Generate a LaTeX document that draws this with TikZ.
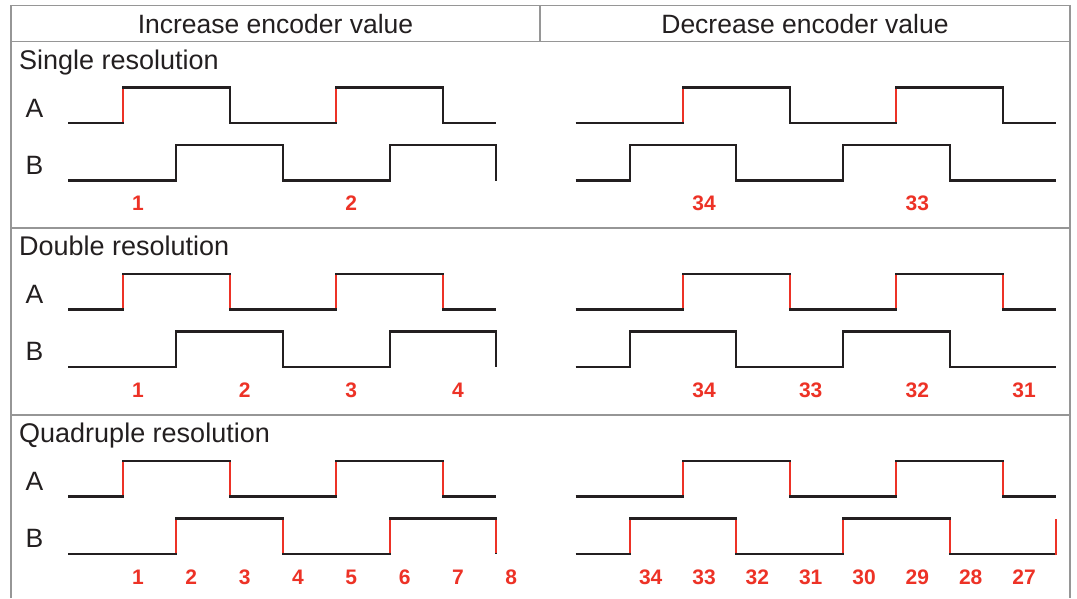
\documentclass[tikz,border=0pt]{standalone}
\usepackage{fontspec}
\setmainfont{Liberation Sans}
\definecolor{framegray}{RGB}{150,150,150}
\definecolor{sigred}{RGB}{237,50,38}
\definecolor{ink}{RGB}{35,31,32}
\begin{document}
\begin{tikzpicture}[x=1pt,y=-1pt,
  frame/.style={draw=framegray,line width=1.4pt},
  wave/.style={draw=ink,line width=2.1pt,line join=miter},
  redge/.style={draw=sigred,line width=2.1pt},
  head/.style={font=\fontsize{26.5}{30}\selectfont,text=ink,inner sep=0pt,anchor=base},
  title/.style={font=\fontsize{27}{30}\selectfont,text=ink,inner sep=0pt,anchor=base west},
  sig/.style={font=\fontsize{26.5}{30}\selectfont,text=ink,inner sep=0pt,anchor=base},
  num/.style={font=\bfseries\fontsize{21}{24}\selectfont,text=sigred,inner sep=0pt,anchor=base}]
\useasboundingbox (0,0) rectangle (1077,598);
\fill[white] (0,0) rectangle (1077,598);
% frame
\draw[frame] (11,598) -- (11,5.7) -- (1070,5.7) -- (1070,598);
\draw[frame] (11,41.5) -- (1070,41.5);
\draw[frame] (540,5.7) -- (540,41.5);
\draw[frame] (11,228) -- (1070,228);
\draw[frame] (11,415) -- (1070,415);
\node[head] (hinc) at (275.5,33.3) {Increase encoder value};
\node[head] (hdec) at (805,33.3) {Decrease encoder value};
% ---------- sections ----------
\foreach \s/\nm/\mode in {41.5/Single/1, 228/Double/2, 415/Quadruple/4}{
\begin{scope}[shift={(0,\s)}]
  \node[title] (t\mode) at (19,27.5) {\nm\ resolution};
  \node[sig] (a\mode) at (34.5,75.8) {A};
  \node[sig] (b\mode) at (34.5,132.5) {B};
  % left A and B
  \draw[wave] (68,81.5) -| (123,46) -| (229.7,81.5) -| (336.3,46) -| (443,81.5) -- (496.3,81.5);
  \draw[wave] (68,139) -| (176.3,103.5) -| (283,139) -| (389.7,103.5) -| (496.3,139);
  % right A and B
  \draw[wave] (575.5,81.5) -| (683,46) -| (789.7,81.5) -| (896.3,46) -| (1003,81.5) -- (1056.3,81.5);
  \draw[wave] (575.5,139) -| (629.7,103.5) -| (736.3,139) -| (843,103.5) -| (949.7,139) -- (1056.3,139);
  % red rising edges of A (all modes)
  \foreach \x in {123,336.3,683,896.3}{\draw[redge] (\x,80.4) -- (\x,47.1);}
  \ifnum\mode>1
    \foreach \x in {229.7,443,789.7,1003}{\draw[redge] (\x,80.4) -- (\x,47.1);}
  \fi
  \ifnum\mode>2
    \foreach \x in {176.3,283,389.7,496.3,629.7,736.3,843,949.7}{\draw[redge] (\x,137.9) -- (\x,104.6);}
    \draw[redge] (1056.3,140.1) -- (1056.3,103.5);
  \fi
\end{scope}
}
% ---------- numbers ----------
\node[num] (n1a) at (138,210.5) {1};
\node[num] (n1b) at (351.3,210.5) {2};
\node[num] (n1c) at (704,210.5) {34};
\node[num] (n1d) at (917.3,210.5) {33};
\node[num] (n2a) at (138,397) {1};
\node[num] (n2b) at (244.7,397) {2};
\node[num] (n2c) at (351.3,397) {3};
\node[num] (n2d) at (458,397) {4};
\node[num] (n2e) at (704,397) {34};
\node[num] (n2f) at (810.7,397) {33};
\node[num] (n2g) at (917.3,397) {32};
\node[num] (n2h) at (1024,397) {31};
\node[num] (n4a) at (138,584) {1};
\node[num] (n4b) at (191.3,584) {2};
\node[num] (n4c) at (244.7,584) {3};
\node[num] (n4d) at (298,584) {4};
\node[num] (n4e) at (351.3,584) {5};
\node[num] (n4f) at (404.7,584) {6};
\node[num] (n4g) at (458,584) {7};
\node[num] (n4h) at (511.3,584) {8};
\node[num] (n4i) at (650.7,584) {34};
\node[num] (n4j) at (704,584) {33};
\node[num] (n4k) at (757.3,584) {32};
\node[num] (n4l) at (810.7,584) {31};
\node[num] (n4m) at (864,584) {30};
\node[num] (n4n) at (917.3,584) {29};
\node[num] (n4o) at (970.7,584) {28};
\node[num] (n4p) at (1024,584) {27};
\end{tikzpicture}
\end{document}
